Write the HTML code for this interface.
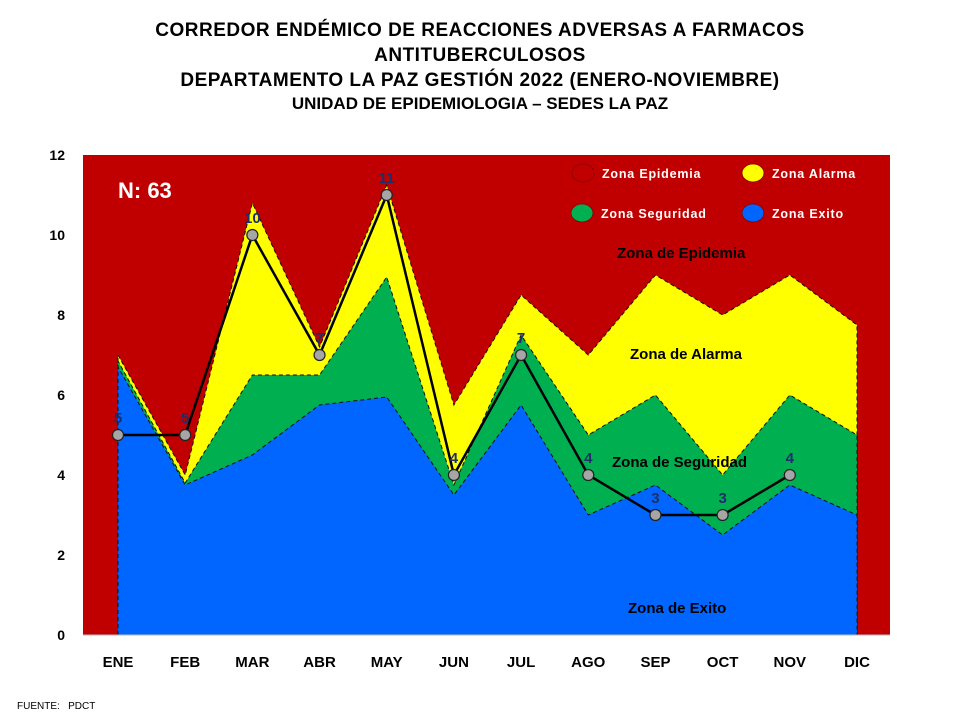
<!DOCTYPE html>
<html><head><meta charset="utf-8"><style>
body{margin:0;background:#fff;width:960px;height:720px;overflow:hidden;font-family:"Liberation Sans",Arial,sans-serif}
.t{position:absolute;left:0;width:960px;text-align:center;font-weight:bold;color:#000}
</style></head><body>
<div class="t" style="top:18px;font-size:19px;line-height:25px;letter-spacing:0.5px">CORREDOR ENDÉMICO DE REACCIONES ADVERSAS A FARMACOS<br>ANTITUBERCULOSOS<br>DEPARTAMENTO LA PAZ GESTIÓN 2022 (ENERO-NOVIEMBRE)</div>
<div class="t" style="top:94px;font-size:17px">UNIDAD DE EPIDEMIOLOGIA – SEDES LA PAZ</div>
<div style="position:absolute;left:17px;top:701px;font-size:10px">FUENTE:&nbsp;&nbsp; PDCT</div>
<svg id="c" width="960" height="720" style="position:absolute;left:0;top:0"></svg>
<script>
const months=["ENE","FEB","MAR","ABR","MAY","JUN","JUL","AGO","SEP","OCT","NOV","DIC"];
const exito=[6.7,3.75,4.5,5.75,5.95,3.5,5.75,3,3.75,2.5,3.75,3];
const seguridad=[6.85,3.8,6.5,6.5,8.95,3.75,7.5,5,6,4,6,5];
const alarma=[7,4,10.8,7.2,11.25,5.75,8.5,7,9,8,9,7.75];
const casos=[5,5,10,7,11,4,7,4,3,3,4];
const yTicks=[0,2,4,6,8,10,12];
const NS="http://www.w3.org/2000/svg";
const svg=document.getElementById('c');
const L=83,R=890,T=155,B=635;
const x=i=>118+i*(857-118)/11;
const y=v=>B-(B-T)*v/12;
function el(t,a,p){const e=document.createElementNS(NS,t);for(const k in a)e.setAttribute(k,a[k]);(p||svg).appendChild(e);return e;}
const bg=el('rect',{x:L,y:T,width:R-L,height:B-T,fill:'#c00000'});


function area(vals,fill,name){
 let d=`M${x(0)},${y(0)}`;vals.forEach((v,i)=>d+=` L${x(i)},${y(v)}`);d+=` L${x(vals.length-1)},${y(0)}Z`;
 const p=el('path',{d,fill,stroke:'#111','stroke-width':1,'stroke-dasharray':'4,3'});
 
 
}
area(alarma,'#ffff00','zona-alarma-area');
area(seguridad,'#00b050','zona-seguridad-area');
area(exito,'#0066ff','zona-exito-area');
el('line',{x1:L,y1:B,x2:R,y2:B,stroke:'#bbb'});
yTicks.forEach(v=>{const t=el('text',{x:65,y:y(v)+5,'text-anchor':'end','font-size':14,'font-weight':'bold',fill:'#000'});t.textContent=v;

});
months.forEach((m,i)=>{const t=el('text',{x:x(i),y:667,'text-anchor':'middle','font-size':15,'font-weight':'bold',fill:'#000'});t.textContent=m;

});
let d='';casos.forEach((v,i)=>d+=(i?' L':'M')+x(i)+','+y(v));
const ln=el('path',{d,fill:'none',stroke:'#000','stroke-width':2.5});


casos.forEach((v,i)=>{const c=el('circle',{cx:x(i),cy:y(v),r:5.5,fill:'#a6a6a6',stroke:'#222','stroke-width':1.2});


const t=el('text',{x:x(i),y:y(v)-12,'text-anchor':'middle','font-size':15,'font-weight':'bold',fill:'#1f2d6b'});t.textContent=v;

});
function txt(s,xx,yy,size,fill,name){const t=el('text',{x:xx,y:yy,'font-size':size,'font-weight':'bold',fill});t.textContent=s;

return t;}
txt('N: 63',118,198,22,'#fff','n-total-label');
txt('Zona de Epidemia',617,258,15,'#000','zona-epidemia-label');
txt('Zona de Alarma',630,359,15,'#000','zona-alarma-label');
txt('Zona de Seguridad',612,467,15,'#000','zona-seguridad-label');
txt('Zona de Exito',628,613,15,'#000','zona-exito-label');
const leg=[['Zona Epidemia','#c00000',583,173],['Zona Alarma','#ffff00',753,173],['Zona Seguridad','#00b050',582,213],['Zona Exito','#0066ff',753,213]];
leg.forEach(([s,c,lx,ly])=>{const e=el('ellipse',{cx:lx,cy:ly,rx:11,ry:9,fill:c,stroke:'#800','stroke-width':0.8});


const t=txt(s,lx+19,ly+5,12.5,'#fff','legend-entry');t.setAttribute('letter-spacing','0.8');});
</script>
</body></html>
